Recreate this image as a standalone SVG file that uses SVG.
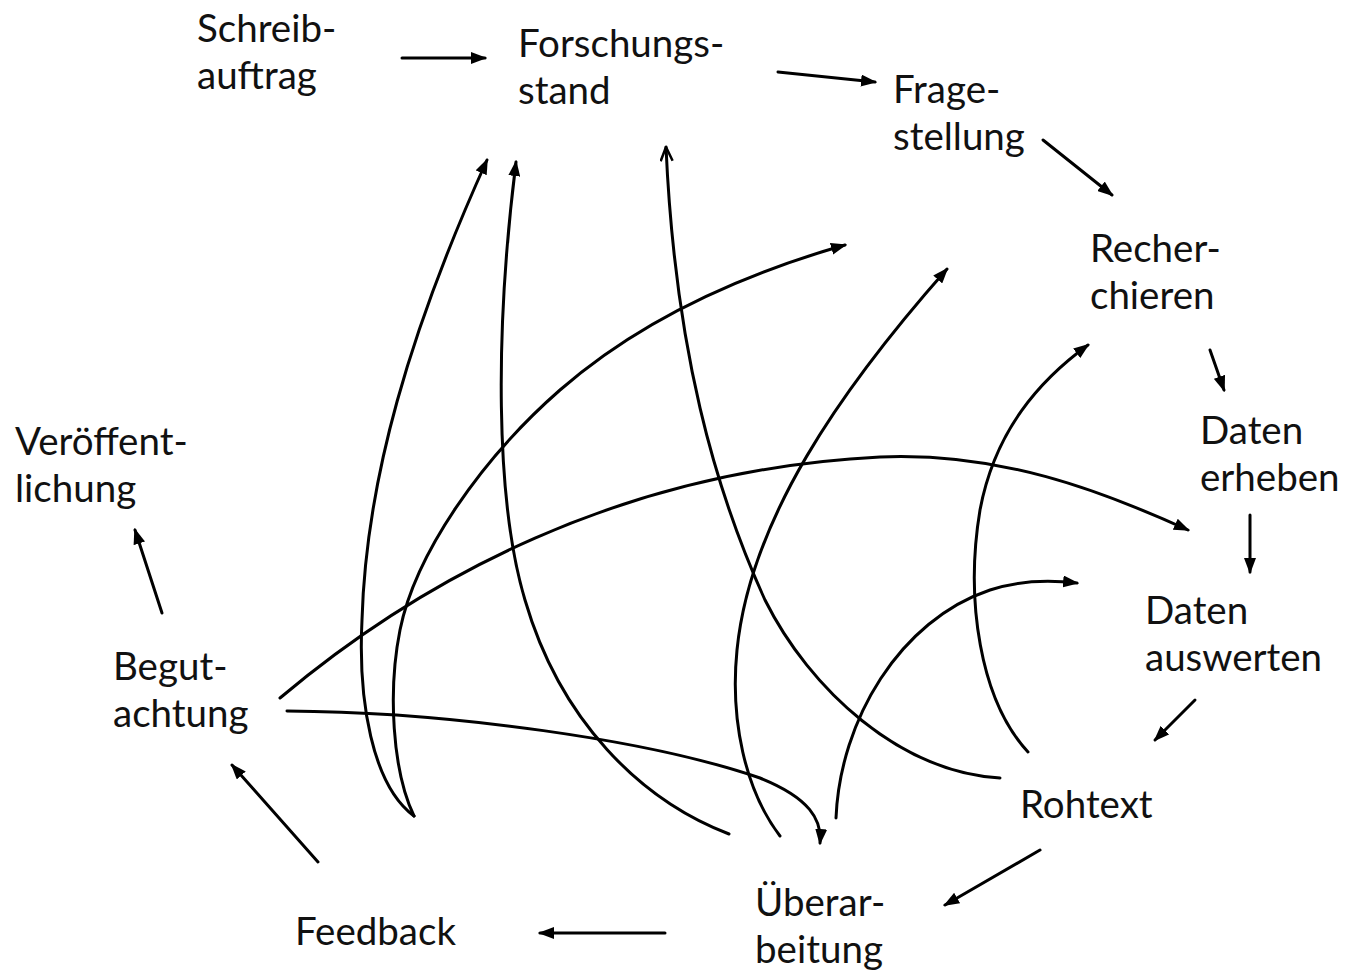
<svg xmlns="http://www.w3.org/2000/svg" width="1345" height="973" viewBox="0 0 1345 973">
<style>
text{font-family:Lato,"Open Sans","Liberation Sans",sans-serif;font-size:38.5px;fill:#111}
.c{fill:none;stroke:#000;stroke-width:3;stroke-linecap:round}
</style>
<defs>
<marker id="ah" viewBox="0 0 16 12" refX="14" refY="6" markerWidth="16" markerHeight="12" markerUnits="userSpaceOnUse" orient="auto"><path d="M0,0 L16,6 L0,12 Z" fill="#000"/></marker>
<marker id="av" viewBox="0 0 16 14" refX="15" refY="7" markerWidth="16" markerHeight="14" markerUnits="userSpaceOnUse" orient="auto"><path d="M1,1 L15,7 L1,13" fill="none" stroke="#000" stroke-width="2.5"/></marker>
</defs>
<rect width="1345" height="973" fill="#fff"/>
<g id="n-schreibauftrag"><text x="197" y="42">Schreib-</text><text x="197" y="89">auftrag</text></g>
<g id="n-forschungsstand"><text x="518" y="57">Forschungs-</text><text x="518" y="104">stand</text></g>
<g id="n-fragestellung"><text x="893" y="103">Frage-</text><text x="893" y="150">stellung</text></g>
<g id="n-recherchieren"><text x="1090" y="262">Recher-</text><text x="1090" y="309">chieren</text></g>
<g id="n-datenerheben"><text x="1200" y="444">Daten</text><text x="1200" y="491">erheben</text></g>
<g id="n-datenauswerten"><text x="1145" y="624">Daten</text><text x="1145" y="671">auswerten</text></g>
<g id="n-rohtext"><text x="1020" y="818">Rohtext</text></g>
<g id="n-ueberarbeitung"><text x="755" y="916">Überar-</text><text x="755" y="963">beitung</text></g>
<g id="n-feedback"><text x="295" y="945">Feedback</text></g>
<g id="n-begutachtung"><text x="113" y="680">Begut-</text><text x="113" y="727">achtung</text></g>
<g id="n-veroeffentlichung"><text x="15" y="455">Veröffent-</text><text x="15" y="502">lichung</text></g>
<g id="connectors">
<path class="c" marker-end="url(#ah)" d="M402,58 L485,58"/>
<path class="c" marker-end="url(#ah)" d="M778,72 L875,82"/>
<path class="c" marker-end="url(#ah)" d="M1043,140 L1112,195"/>
<path class="c" marker-end="url(#ah)" d="M1210,350 L1224,390"/>
<path class="c" marker-end="url(#ah)" d="M1250,515 L1250,572"/>
<path class="c" marker-end="url(#ah)" d="M1195,700 L1155,740"/>
<path class="c" marker-end="url(#ah)" d="M1040,850 L945,905"/>
<path class="c" marker-end="url(#ah)" d="M665,933 L540,933"/>
<path class="c" marker-end="url(#ah)" d="M318,862 L232,765"/>
<path class="c" marker-end="url(#ah)" d="M162,613 L135,530"/>
<path class="c" marker-end="url(#ah)" d="M414,816 C372,785 358,700 362,620 C366,480 410,330 487,160"/>
<path class="c" marker-end="url(#ah)" d="M414,816 C392,770 388,690 400,630 C415,555 480,460 560,390 C640,320 740,275 845,245"/>
<path class="c" marker-end="url(#ah)" d="M729,834 C640,800 560,720 525,600 C495,500 495,330 516,162"/>
<path class="c" marker-end="url(#av)" d="M1000,778 C900,772 810,690 765,600 C715,490 675,350 666,147"/>
<path class="c" marker-end="url(#ah)" d="M780,836 C745,790 730,720 737,650 C750,520 840,390 947,269"/>
<path class="c" marker-end="url(#ah)" d="M280,698 C420,580 620,470 880,457 C1000,452 1100,490 1188,530"/>
<path class="c" marker-end="url(#ah)" d="M287,711 C450,712 650,740 760,778 C810,798 822,820 820,843"/>
<path class="c" marker-end="url(#ah)" d="M836,818 C840,720 900,620 990,590 C1020,580 1050,580 1077,583"/>
<path class="c" marker-end="url(#ah)" d="M1028,752 C980,700 965,600 980,510 C995,430 1040,380 1088,345"/>
</g>
</svg>
